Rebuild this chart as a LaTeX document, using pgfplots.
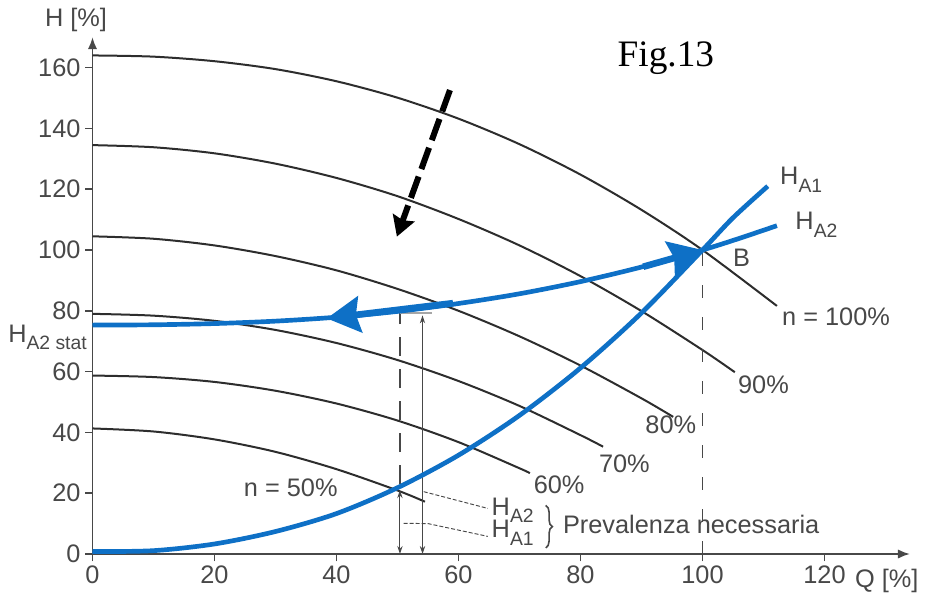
\documentclass[border=0pt]{standalone}
\usepackage{fontspec}
\setmainfont{Liberation Sans}
\newfontfamily\figfont{Liberation Serif}
\usepackage{pgfplots}
\pgfplotsset{compat=1.18}
\usetikzlibrary{arrows.meta,decorations.pathreplacing}
\definecolor{curve}{RGB}{45,45,45}
\definecolor{txt}{RGB}{72,72,72}
\definecolor{pblue}{RGB}{14,112,198}
\newcommand{\sub}[1]{\raisebox{-0.3em}{\fontsize{14.5}{15}\selectfont #1}}
\begin{document}
\begin{tikzpicture}
\useasboundingbox (-69.375pt,-36.75pt) rectangle (624.375pt,415.5pt);
\begin{axis}[
  at={(0,0)}, anchor=origin,
  x=4.575pt, y=2.28pt,
  xmin=0, xmax=134, ymin=0, ymax=170,
  axis lines=left,
  axis line style={draw=txt, line width=1.3pt, -{Latex[length=9pt,width=7pt]}},
  xtick={0,20,...,120}, ytick={0,20,...,160},
  tick align=outside, major tick length=5.5pt,
  tick style={draw=txt, line width=1.1pt},
  ticklabel style={font=\fontsize{19}{20}\selectfont, text=txt},
  /pgf/number format/assume math mode=true,
  clip=false,
]
% pump curves n = 100% ... 50%
\addplot[curve, line width=1.5pt, smooth] coordinates {(0,164) (10,163.6) (20,162.1) (30,159.5) (40,155.5) (50,150.1) (60,143.2) (70,134.8) (80,124.8) (90,113.2) (100,100) (112.2,81.6)};
\addplot[curve, line width=1.5pt, smooth] coordinates {(0,134.5) (10,133.8) (20,131.8) (30,128.4) (40,123.7) (50,117.7) (60,110.2) (70,101.5) (80,91.4) (90,79.9) (100,67.1) (105.3,59.8)};
\addplot[curve, line width=1.5pt, smooth] coordinates {(0,104.5) (10,103.7) (20,101.5) (30,98.0) (40,93.3) (50,87.2) (60,80.0) (70,71.6) (80,62.0) (90,51.2) (95.2,45.1)};
\addplot[curve, line width=1.5pt, smooth] coordinates {(0,79) (10,78.4) (20,76.7) (30,73.7) (40,69.4) (50,63.8) (60,56.9) (70,48.7) (80,39.1) (83.7,35.3)};
\addplot[curve, line width=1.5pt, smooth] coordinates {(0,58.7) (10,58.2) (20,56.6) (30,53.7) (40,49.5) (50,43.9) (60,36.8) (70,28.2) (71.7,26.6)};
\addplot[curve, line width=1.5pt, smooth] coordinates {(0,41.3) (10,40.3) (20,37.7) (30,33.6) (40,27.9) (50,20.9) (54.5,17.2)};
% reference lines
\addplot[txt, line width=1.1pt, dash pattern=on 10pt off 14pt] coordinates {(100,0) (100,99)};
\addplot[txt, line width=1pt, dash pattern=on 14pt off 10pt] coordinates {(50.4,23) (50.4,79.3)};
\addplot[txt, line width=0.8pt, {Stealth[length=6pt,width=4pt]}-{Stealth[length=6pt,width=4pt]}] coordinates {(50.4,0) (50.4,21)};
\addplot[txt, line width=0.8pt, {Stealth[length=6pt,width=4pt]}-{Stealth[length=6pt,width=4pt]}] coordinates {(54.1,0) (54.1,78.5)};
\addplot[black!35, line width=2pt] coordinates {(50.4,79.3) (55.6,79.3)};
\addplot[txt, line width=0.7pt, dash pattern=on 3pt off 1.5pt] coordinates {(54.3,20.5) (64.8,15)};
\addplot[txt, line width=0.7pt, dash pattern=on 3pt off 1.5pt] coordinates {(51,10.1) (55,10) (64.8,5.8)};
% system curves
\addplot[pblue, line width=3.5pt, smooth] coordinates {(0,0.8) (10,1.1) (20,3.3) (30,7.4) (40,13.3) (50,21.8) (60,32.5) (70,45.6) (80,61.2) (90,79.3) (100,100) (105,110.6) (110.7,121)};
\addplot[pblue, line width=3.5pt, smooth] coordinates {(0,75.3) (10,75.4) (20,75.8) (30,76.6) (40,77.9) (50,79.8) (60,82.4) (70,85.6) (80,89.6) (90,94.4) (100,100) (106,103.8) (112.2,108)};
% arrows
\addplot[pblue, line width=5pt, -{Stealth[length=25pt,width=27pt,inset=3pt]}] coordinates {(59.1,82.5) (38.4,77.5)};
\addplot[pblue, line width=5pt, -{Stealth[length=25pt,width=27pt,inset=3pt]}] coordinates {(90.3,94.5) (100,100)};
\addplot[black, line width=4.5pt, dash pattern=on 17pt off 6pt, -{Stealth[length=15pt,width=17pt,inset=2pt]}] coordinates {(58.6,152.6) (49.9,104.4)};
% labels
\begin{scope}[every node/.style={font=\fontsize{19}{20}\selectfont, text=txt, inner sep=0pt}]
\node at (axis cs:32.5,21.7) {n = 50\%};
\node at (axis cs:76.5,22.7) {60\%};
\node at (axis cs:87.2,29.8) {70\%};
\node at (axis cs:94.8,42.4) {80\%};
\node at (axis cs:110,55.6) {90\%};
\node at (axis cs:121.9,78.1) {n = 100\%};
\node at (axis cs:106.4,97.3) {B};
\node[anchor=base west] at (axis cs:112.7,121.4) {H\sub{A1}};
\node[anchor=base west] at (axis cs:115.2,106.6) {H\sub{A2}};
\node[anchor=base west] at (axis cs:65.4,12.8) {H\sub{A2}};
\node[anchor=base west] at (axis cs:65.4,5.3) {H\sub{A1}};
\node[anchor=base west] at (axis cs:77.1,6.6) {Prevalenza necessaria};
\node[anchor=base east] at (axis cs:-0.9,69.7) {H\sub{A2 stat}};
\node at (axis cs:-2.7,175.7) {H [\%]};
\node at (axis cs:130.2,-8.8) {Q [\%]};
\end{scope}
\draw[txt, line width=1.2pt, decorate, decoration={brace, amplitude=5pt}] (axis cs:74.3,16) -- (axis cs:74.3,2);
\node[font=\figfont\fontsize{28}{30}\selectfont, text=black] at (axis cs:94,163) {Fig.13};
\end{axis}
\end{tikzpicture}
\end{document}
